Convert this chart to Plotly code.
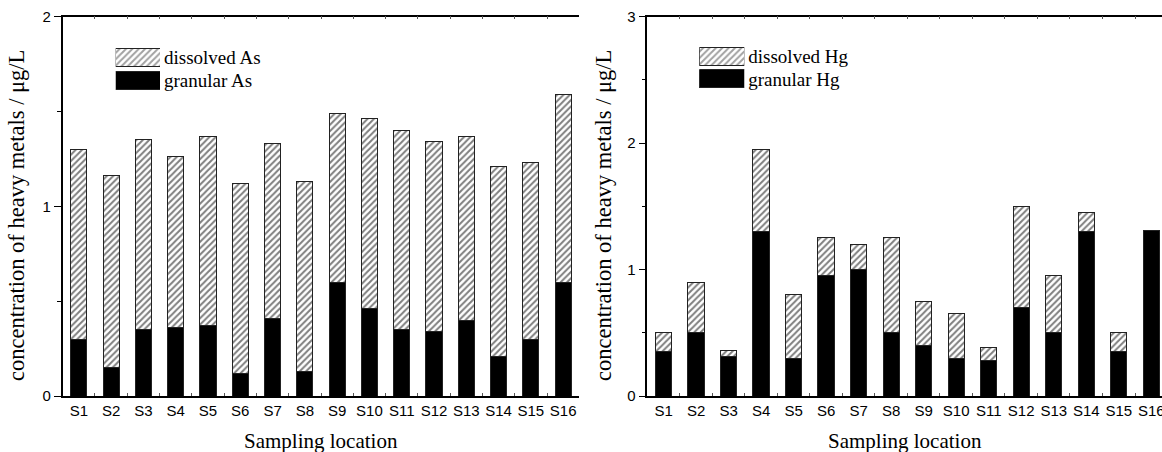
import plotly.graph_objects as go

W, H = 1162, 452

SITES = ["S%d" % i for i in range(1, 17)]
AS_GRANULAR = [0.30, 0.15, 0.35, 0.36, 0.37, 0.12, 0.41, 0.13, 0.60, 0.46, 0.35, 0.34, 0.40, 0.21, 0.30, 0.60]
AS_DISSOLVED = [1.00, 1.01, 1.00, 0.90, 1.00, 1.00, 0.92, 1.00, 0.89, 1.00, 1.05, 1.00, 0.97, 1.00, 0.93, 0.99]
HG_GRANULAR = [0.35, 0.50, 0.31, 1.30, 0.30, 0.95, 1.00, 0.50, 0.40, 0.30, 0.28, 0.70, 0.50, 1.30, 0.35, 1.31]
HG_DISSOLVED = [0.15, 0.40, 0.05, 0.65, 0.50, 0.30, 0.20, 0.75, 0.35, 0.35, 0.10, 0.80, 0.45, 0.15, 0.15, 0.00]
AS_NAMES = ["dissolved As", "granular As"]
HG_NAMES = ["dissolved Hg", "granular Hg"]
SWATCH = [1, 1]

X_TITLE = "Sampling location"
Y_TITLE = "concentration of heavy metals / \u03bcg/L"

SANS = "Liberation Sans, Arial, sans-serif"
SERIF = "Liberation Serif, Times New Roman, serif"

HATCH = dict(shape="/", size=4.5, solidity=0.45, fgcolor="black", bgcolor="white")
OUTLINE = dict(color="#222222", width=1)

def px_x(v):
    return v / W

def px_y(v):
    return (H - v) / H

Y_DOM = [px_y(396), px_y(16.5)]

fig = go.Figure()

# Left panel (As)
fig.add_trace(go.Bar(x=SITES, y=AS_GRANULAR, name=AS_NAMES[1], xaxis="x", yaxis="y",
                     marker=dict(color="black", line=OUTLINE), width=0.5, showlegend=False))
fig.add_trace(go.Bar(x=SITES, y=AS_DISSOLVED, name=AS_NAMES[0], xaxis="x", yaxis="y",
                     marker=dict(color="white", pattern=HATCH, line=OUTLINE), width=0.5, showlegend=False))
# Right panel (Hg)
fig.add_trace(go.Bar(x=SITES, y=HG_GRANULAR, name=HG_NAMES[1], xaxis="x2", yaxis="y2",
                     marker=dict(color="black", line=OUTLINE), width=0.5, showlegend=False))
fig.add_trace(go.Bar(x=SITES, y=HG_DISSOLVED, name=HG_NAMES[0], xaxis="x2", yaxis="y2",
                     marker=dict(color="white", pattern=HATCH, line=OUTLINE), width=0.5, showlegend=False))

# Legend swatches drawn as horizontal bars on small axes
for names, xa, ya in [(AS_NAMES, "x5", "y5"), (HG_NAMES, "x6", "y6")]:
    fig.add_trace(go.Bar(y=names, x=SWATCH, orientation="h", xaxis=xa, yaxis=ya, width=0.8,
                         marker=dict(color=["white", "black"], line=OUTLINE,
                                     pattern=dict(shape=["/", ""], size=4.5, solidity=0.45,
                                                  fgcolor="black", bgcolor="white")),
                         showlegend=False, hoverinfo="skip"))

common_x = dict(type="category", categoryorder="array", categoryarray=SITES,
                tickmode="array", tickvals=SITES, ticktext=SITES, tickangle=0,
                tickson="boundaries", ticks="inside", ticklen=3, tickcolor="#555555",
                showline=True, linecolor="black", linewidth=1.5, mirror="ticks",
                showgrid=False, zeroline=False, automargin=False,
                tickfont=dict(family=SANS, size=15, color="black"), fixedrange=True)
common_y = dict(ticks="outside", ticklen=7, tickcolor="black", tickwidth=1,
                showline=True, linecolor="black", linewidth=1.5, showgrid=False,
                zeroline=False, automargin=False, dtick=1, tick0=0,
                minor=dict(dtick=0.5, ticks="outside", ticklen=4, tickcolor="black"),
                tickfont=dict(family=SANS, size=15, color="black"))

def swatch_y(dom, names):
    return dict(domain=dom, side="right", autorange="reversed",
                type="category", tickmode="array", tickvals=names, ticktext=names,
                showline=False, showgrid=False, zeroline=False, ticks="",
                ticklabelstandoff=3, automargin=False, fixedrange=True,
                tickfont=dict(family=SERIF, size=19, color="black"))

fig.update_layout(
    width=W, height=H, autosize=False,
    margin=dict(l=0, r=0, t=0, b=0),
    paper_bgcolor="white", plot_bgcolor="white",
    barmode="stack", showlegend=False,
    xaxis=dict(common_x, domain=[px_x(62.7), px_x(579.3)], range=[-0.5, 15.5], anchor="y"),
    yaxis=dict(common_y, domain=Y_DOM, range=[0, 2], anchor="x"),
    yaxis3=dict(overlaying="y", side="right", anchor="x", range=[0, 2], dtick=0.2, tick0=0,
                ticks="inside", ticklen=4, tickcolor="black", showticklabels=False,
                showline=True, linecolor="black", linewidth=1.5, showgrid=False, zeroline=False),
    xaxis2=dict(common_x, domain=[px_x(647.3), 1.0], range=[-0.5, 15.33], anchor="y2"),
    yaxis2=dict(common_y, domain=Y_DOM, range=[0, 3], anchor="x2"),
    xaxis5=dict(domain=[px_x(115.7), px_x(160)], range=[0, 1], anchor="y5", visible=False, fixedrange=True),
    yaxis5=dict(swatch_y([px_y(91.5), px_y(46.5)], AS_NAMES), anchor="x5"),
    xaxis6=dict(domain=[px_x(699.3), px_x(744.3)], range=[0, 1], anchor="y6", visible=False, fixedrange=True),
    yaxis6=dict(swatch_y([px_y(90), px_y(45.5)], HG_NAMES), anchor="x6"),
    annotations=[
        dict(text=X_TITLE, xref="paper", yref="paper", x=px_x(321), y=px_y(441),
             xanchor="center", yanchor="middle", showarrow=False,
             font=dict(family=SERIF, size=21, color="black")),
        dict(text=X_TITLE, xref="paper", yref="paper", x=px_x(905), y=px_y(441),
             xanchor="center", yanchor="middle", showarrow=False,
             font=dict(family=SERIF, size=21, color="black")),
        dict(text=Y_TITLE, xref="paper", yref="paper", x=px_x(17), y=px_y(216),
             xanchor="center", yanchor="middle", showarrow=False, textangle=-90,
             font=dict(family=SERIF, size=22.5, color="black")),
        dict(text=Y_TITLE, xref="paper", yref="paper", x=px_x(604), y=px_y(216),
             xanchor="center", yanchor="middle", showarrow=False, textangle=-90,
             font=dict(family=SERIF, size=22.5, color="black")),
    ],
)

fig.write_html("out.html", config={"displayModeBar": False},
               post_script="document.body.style.margin='0';document.body.style.overflow='hidden';")
